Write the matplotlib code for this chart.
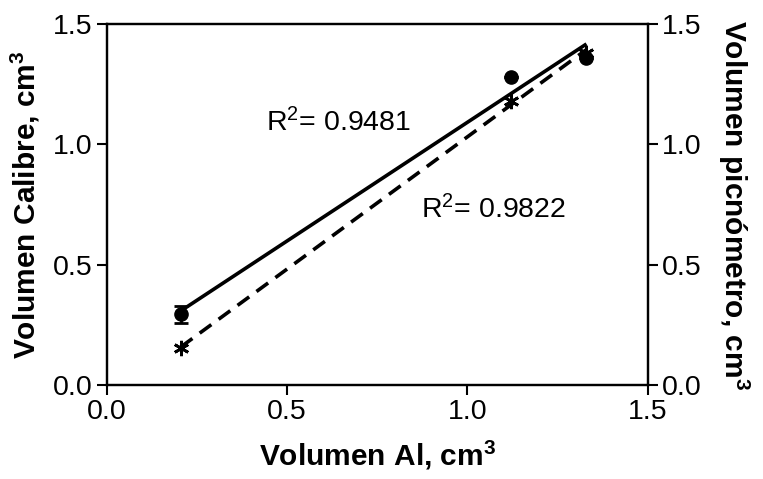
import numpy as np
import matplotlib
matplotlib.use("Agg")
import matplotlib.pyplot as plt

plt.rcParams['font.family'] = ['Liberation Sans', 'DejaVu Sans']
plt.rcParams['mathtext.fontset'] = 'custom'
plt.rcParams['mathtext.rm'] = 'Liberation Sans'
plt.rcParams['mathtext.bf'] = 'Liberation Sans:bold'
plt.rcParams['mathtext.default'] = 'regular'

# datos
vol_ai = [0.205, 1.12, 1.33]
vol_calibre = [0.295, 1.28, 1.36]
err_calibre = [0.035, 0.0, 0.0]
vol_picno = [0.155, 1.18, 1.38]
r2_calibre = "R$^2$= 0.9481"
r2_picno = "R$^2$= 0.9822"
ticks = [0.0, 0.5, 1.0, 1.5]

fs_tick = 20.5
fs_label = 21.5

fig = plt.figure(figsize=(7.63, 4.79), dpi=100)
ax = fig.add_axes([0.140, 0.196, 0.709, 0.754])
ax2 = ax.twinx()

x = np.array(vol_ai)

# recta de calibre (continua)
m1, b1 = np.polyfit(x, vol_calibre, 1)
xs = np.array([x.min(), x.max()])
ax.plot(xs, m1 * xs + b1, color='black', lw=2.6, solid_capstyle='butt')
ax.errorbar(vol_ai, vol_calibre, yerr=err_calibre, fmt='o', color='black',
            ms=9.5, capsize=5, elinewidth=2, capthick=2, zorder=3)

# recta de picnometro (discontinua)
m2, b2 = np.polyfit(x, vol_picno, 1)
ax2.plot(xs, m2 * xs + b2, color='black', lw=2.6, dashes=(4, 2.5))
ax2.plot(vol_ai, vol_picno, linestyle='none', marker=(6, 2, 0), color='black',
         ms=11, mew=2)

for a in (ax, ax2):
    a.set_xlim(0, 1.5)
    a.set_ylim(0, 1.5)
    a.set_yticks(ticks)
    a.set_yticklabels([f"{t:.1f}" for t in ticks])
    a.tick_params(direction='out', length=7, width=1.5, labelsize=fs_tick, pad=3)
    for s in a.spines.values():
        s.set_linewidth(1.6)

ax.set_xticks(ticks)
ax.set_xticklabels([f"{t:.1f}" for t in ticks])
ax.tick_params(axis='y', right=False)

ax.set_xlabel("Volumen Al, cm$^3$", fontsize=fs_label, fontweight='bold', labelpad=10)
ax.set_ylabel("Volumen Calibre, cm$^3$", fontsize=fs_label, fontweight='bold', labelpad=8)
ax2.set_ylabel("Volumen picnómetro, cm$^3$", fontsize=fs_label, fontweight='bold',
               rotation=-90, labelpad=36)

ax.text(0.44, 1.09, r2_calibre, fontsize=fs_tick, va='center', ha='left')
ax.text(0.87, 0.727, r2_picno, fontsize=fs_tick, va='center', ha='left')

fig.savefig("out.png", dpi=100)
